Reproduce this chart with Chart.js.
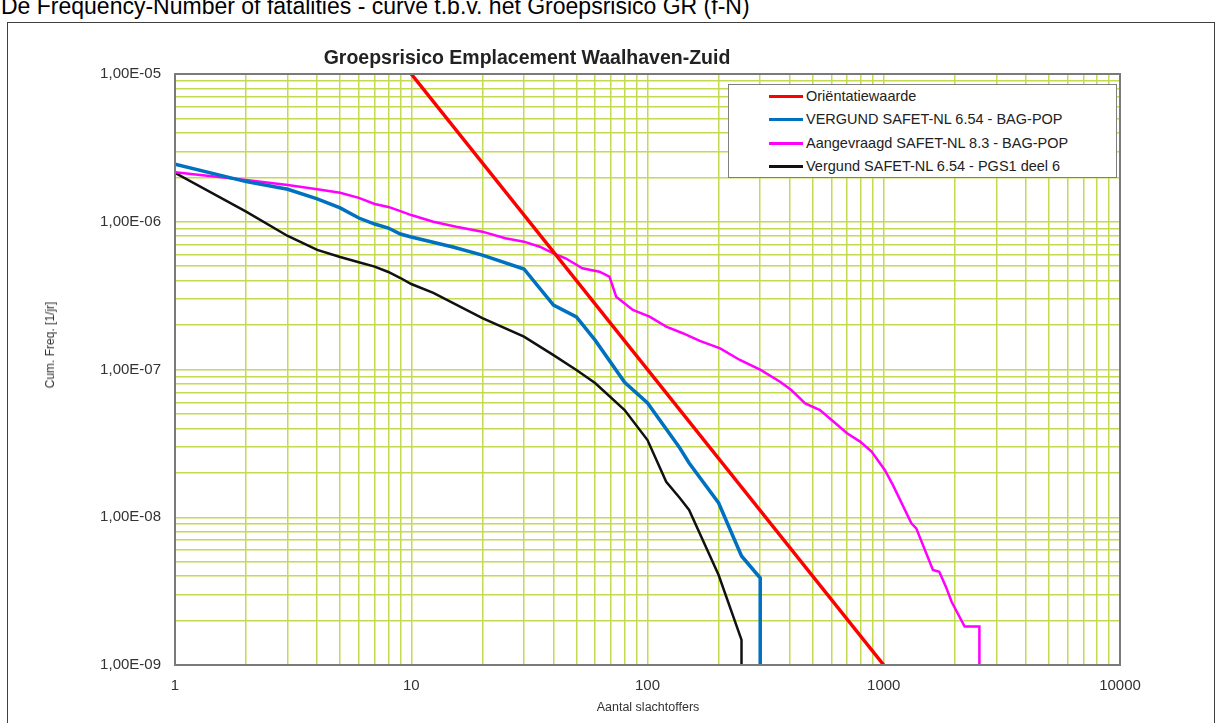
<!DOCTYPE html>
<html><head><meta charset="utf-8">
<script src="https://cdn.jsdelivr.net/npm/chart.js@4/dist/chart.umd.min.js"></script>
<style>
html,body{margin:0;padding:0;background:#fff;overflow:hidden;width:1224px;height:723px;font-family:"Liberation Sans",Arial,sans-serif}
#wrap{position:relative;width:1224px;height:723px;overflow:hidden}
#c{position:absolute;left:0;top:0}
#caption{position:absolute;left:1px;top:-5.5px;font-size:23px;line-height:23px;white-space:nowrap;color:#000}
#frame{position:absolute;left:7px;top:22px;width:1208px;height:740px;border:1px solid #404040;box-sizing:border-box}
#title{position:absolute;left:527px;top:46px;transform:translateX(-50%);font-weight:bold;font-size:19.5px;line-height:22px;white-space:nowrap;color:#222}
#legend{position:absolute;left:728px;top:84px;width:389px;height:94px;box-sizing:border-box;border:1.5px solid #7f7f7f;background:#fff}
.row{position:absolute;left:0;height:20px;width:100%}
.sw{position:absolute;left:40px;top:9px;width:34px;height:3px}
.lt{position:absolute;left:77px;top:0;font-size:14.5px;line-height:20px;color:#222;white-space:nowrap}
#ytitle{position:absolute;left:50px;top:345px;transform:translate(-50%,-50%) rotate(-90deg);font-size:12px;color:#333;white-space:nowrap}
#xtitle{position:absolute;left:648px;top:707px;transform:translate(-50%,-50%);font-size:12.5px;color:#333;white-space:nowrap}
</style></head>
<body><div id="wrap">
<div id="caption">De Frequency-Number of fatalities - curve t.b.v. het Groepsrisico GR (f-N)</div>
<div id="frame"></div>
<canvas id="c" width="1224" height="723"></canvas>
<div id="title">Groepsrisico Emplacement Waalhaven-Zuid</div>
<div id="legend"></div>
<div id="ytitle">Cum. Freq. [1/jr]</div>
<div id="xtitle">Aantal slachtoffers</div>
</div>
<script>
// ---- data ----
const seriesNames = ['Oriëntatiewaarde','VERGUND SAFET-NL 6.54 - BAG-POP','Aangevraagd SAFET-NL 8.3 - BAG-POP','Vergund SAFET-NL 6.54 - PGS1 deel 6'];
const seriesColors = ['#ff0000','#0070c0','#ff00ff','#111111'];
const seriesWidths = [3.5,3.5,2.5,2.5];

const nOrient = [10, 1000];
const fOrient = [1e-5, 1e-9];

const nBlue = [1,2,3,4,5,6,7,8,9,10,15,20,30,40,50,60,80,100,137,150,200,250,300,300];
const fBlue = [2.45e-6,1.87e-6,1.66e-6,1.43e-6,1.24e-6,1.06e-6,9.65e-7,9.07e-7,8.26e-7,7.89e-7,6.75e-7,5.95e-7,4.79e-7,2.73e-7,2.27e-7,1.58e-7,8.2e-8,5.93e-8,2.94e-8,2.33e-8,1.25e-8,5.47e-9,3.88e-9,1e-9];

const nMag = [1,2,3,4,5,6,7,8,9,10,12.4,15.5,20,25,30,35,40,45,53,62.6,69,73.7,86.7,102,120,141,166.5,203,246,301,364,406,465,537,614,699,794,888,1010,1094,1309,1373,1615,1718,1832,1937,2200,2540,2540];
const fMag = [2.16e-6,1.92e-6,1.77e-6,1.66e-6,1.57e-6,1.45e-6,1.32e-6,1.26e-6,1.18e-6,1.11e-6,1.0e-6,9.26e-7,8.57e-7,7.73e-7,7.33e-7,6.78e-7,6.11e-7,5.66e-7,4.84e-7,4.59e-7,4.25e-7,3.11e-7,2.53e-7,2.28e-7,1.95e-7,1.76e-7,1.56e-7,1.39e-7,1.16e-7,9.93e-8,8.27e-8,7.26e-8,5.9e-8,5.32e-8,4.43e-8,3.7e-8,3.25e-8,2.78e-8,2.09e-8,1.65e-8,9.1e-9,8.41e-9,4.4e-9,4.28e-9,3.39e-9,2.68e-9,1.82e-9,1.82e-9,1e-9];

const nBlack = [1,2,3,4,5,6,7,8,9,10,12.4,20,30,40,50,60,80,100,120,137,150,200,250,250];
const fBlack = [2.14e-6,1.17e-6,8.01e-7,6.45e-7,5.77e-7,5.32e-7,4.97e-7,4.57e-7,4.16e-7,3.79e-7,3.3e-7,2.23e-7,1.67e-7,1.25e-7,9.93e-8,8.1e-8,5.32e-8,3.33e-8,1.74e-8,1.35e-8,1.12e-8,4.06e-9,1.48e-9,1e-9];

const xTickValues = [1,10,100,1000,10000];
const xTickLabels = ['1','10','100','1000','10000'];
const yTickValues = [1e-9,1e-8,1e-7,1e-6,1e-5];
const yTickLabels = ['1,00E-09','1,00E-08','1,00E-07','1,00E-06','1,00E-05'];

// ---- helpers ----
function withMinor(majors){
  const out=[];
  for(let i=0;i<majors.length;i++){
    out.push({value:majors[i],major:true});
    if(i<majors.length-1) for(let k=2;k<=9;k++) out.push({value:majors[i]*k,major:false});
  }
  return out;
}
function labelFor(values,labels,v){
  const i=values.findIndex(m=>Math.abs(m-v)/m<1e-6);
  return i>=0?labels[i]:'';
}
const pts=(xs,ys)=>xs.map((x,i)=>({x:x,y:ys[i]}));

const allN=[nOrient,nBlue,nMag,nBlack];
const allF=[fOrient,fBlue,fMag,fBlack];

// legend
const lg=document.getElementById('legend');
const rowTops=[1,24,48,71];
seriesNames.forEach((nm,i)=>{
  const r=document.createElement('div');r.className='row';r.style.top=rowTops[i]+'px';
  const s=document.createElement('div');s.className='sw';s.style.background=seriesColors[i];
  const t=document.createElement('div');t.className='lt';t.textContent=nm;
  r.appendChild(s);r.appendChild(t);lg.appendChild(r);
});

const gridColor='#c4da50';
const frameBorder={
  id:'frameBorder',
  afterDatasetsDraw(chart){
    const a=chart.chartArea,ctx=chart.ctx;
    ctx.save();ctx.strokeStyle='#7a7a7a';ctx.lineWidth=2;
    ctx.strokeRect(a.left,a.top,a.right-a.left,a.bottom-a.top);
    ctx.restore();
  }
};

new Chart(document.getElementById('c'),{
  type:'line',
  data:{datasets:seriesNames.map((nm,i)=>({
    label:nm,data:pts(allN[i],allF[i]),borderColor:seriesColors[i],
    backgroundColor:seriesColors[i],borderWidth:seriesWidths[i],
    pointRadius:0,tension:0,fill:false
  }))},
  options:{
    responsive:false,animation:false,
    layout:{padding:{left:0,top:74,right:104,bottom:0}},
    plugins:{legend:{display:false},title:{display:false},tooltip:{enabled:false}},
    scales:{
      x:{type:'logarithmic',min:1,max:10000,
        afterBuildTicks:s=>{s.ticks=withMinor(xTickValues);},
        afterFit:s=>{s.height=58;},
        grid:{color:gridColor,lineWidth:1.5,drawTicks:false},
        border:{display:false},
        ticks:{autoSkip:false,maxRotation:0,minRotation:0,padding:12,color:'#333',
          font:{family:'"Liberation Sans", Arial, sans-serif',size:15},
          callback:(v)=>labelFor(xTickValues,xTickLabels,v)}
      },
      y:{type:'logarithmic',min:1e-9,max:1e-5,
        afterBuildTicks:s=>{s.ticks=withMinor(yTickValues);},
        afterFit:s=>{s.width=175;},
        grid:{color:gridColor,lineWidth:1.5,drawTicks:false},
        border:{display:false},
        ticks:{autoSkip:false,padding:14,color:'#333',
          font:{family:'"Liberation Sans", Arial, sans-serif',size:15},
          callback:(v)=>labelFor(yTickValues,yTickLabels,v)}
      }
    }
  },
  plugins:[frameBorder]
});
</script>
</body></html>
